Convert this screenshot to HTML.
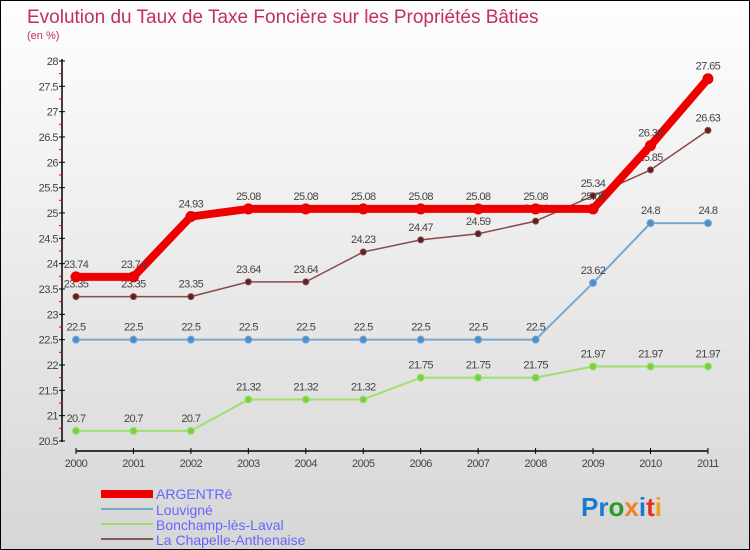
<!DOCTYPE html>
<html><head><meta charset="utf-8"><style>
body{margin:0}
#c{width:750px;height:550px;position:relative;box-sizing:border-box;border:1px solid #000;background:linear-gradient(#fefefe,#d6d6d6);font-family:"Liberation Sans",sans-serif;overflow:hidden}
svg text{font-family:"Liberation Sans",sans-serif}
</style></head><body>
<div id="c">
<svg id="s" width="750" height="550">
<text x="26" y="22" font-size="19" fill="#c0305a">Evolution du Taux de Taxe Foncière sur les Propriétés Bâties</text>
<text x="26" y="38" font-size="11" fill="#c0305a">(en %)</text>
<g id="g"></g>
<g>
<rect x="100" y="489" width="52" height="8" fill="#e00"/>
<text x="155" y="498" font-size="14" fill="#6666ff">ARGENTRé</text>
<line x1="100" y1="508" x2="152" y2="508" stroke="#7aa8cc" stroke-width="2"/>
<text x="155" y="514" font-size="14" fill="#6666ff">Louvigné</text>
<line x1="100" y1="523" x2="152" y2="523" stroke="#9de070" stroke-width="2"/>
<text x="155" y="529" font-size="14" fill="#6666ff">Bonchamp-lès-Laval</text>
<line x1="100" y1="538" x2="152" y2="538" stroke="#8a5a5a" stroke-width="2"/>
<text x="155" y="544" font-size="14" fill="#6666ff">La Chapelle-Anthenaise</text>
</g>
<text x="580" y="515" font-size="26" font-weight="bold"><tspan fill="#1a7ad0">Pr</tspan><tspan fill="#2a9a2a">o</tspan><tspan fill="#f08020">x</tspan><tspan fill="#1a7ad0">i</tspan><tspan fill="#e03020">t</tspan><tspan fill="#f0a020">i</tspan></text>
</svg>
</div>
<script>
const years=["2000","2001","2002","2003","2004","2005","2006","2007","2008","2009","2010","2011"];
const argentre=[23.74,23.74,24.93,25.08,25.08,25.08,25.08,25.08,25.08,25.08,26.33,27.65];
const louvigne=[22.5,22.5,22.5,22.5,22.5,22.5,22.5,22.5,22.5,23.62,24.8,24.8];
const bonchamp=[20.7,20.7,20.7,21.32,21.32,21.32,21.75,21.75,21.75,21.97,21.97,21.97];
const chapelle=[23.35,23.35,23.35,23.64,23.64,24.23,24.47,24.59,24.84,25.34,25.85,26.63];
const yTicks=[20.5,21,21.5,22,22.5,23,23.5,24,24.5,25,25.5,26,26.5,27,27.5,28];
const NS="http://www.w3.org/2000/svg",g=document.getElementById('g');
const X=i=>75+i*57.45, Y=v=>440-(v-20.5)*50.67;
function mk(t,a,p){const e=document.createElementNS(NS,t);for(const k in a)e.setAttribute(k,a[k]);(p||g).appendChild(e);return e;}
mk('line',{x1:61,y1:58,x2:61,y2:441,stroke:'#000','stroke-width':1.5});
mk('line',{x1:75,y1:450,x2:707,y2:450,stroke:'#000','stroke-width':1.5});
yTicks.forEach(v=>{mk('line',{x1:58,y1:Y(v),x2:64,y2:Y(v),stroke:'#000'});
 if(v<28)mk('line',{x1:58,y1:Y(v+0.25),x2:61,y2:Y(v+0.25),stroke:'#e00'});
 const t=mk('text',{x:57,y:Y(v)+4,'font-size':11,fill:'#444','text-anchor':'end','letter-spacing':'-0.5'});t.textContent=String(v);
 
 });
years.forEach((y,i)=>{mk('line',{x1:X(i),y1:447,x2:X(i),y2:453,stroke:'#000'});
 const t=mk('text',{x:X(i),y:466,'font-size':11,fill:'#444','text-anchor':'middle','letter-spacing':'-0.5'});t.textContent=y;
 
 });
function series(data,name,col,dot,w,r){
 const grp=mk('g',{});
 
 
 mk('polyline',{points:data.map((v,i)=>X(i)+','+Y(v)).join(' '),fill:'none',stroke:col,'stroke-width':w,'stroke-linejoin':'round'},grp);
 data.forEach((v,i)=>{const c=mk('circle',{cx:X(i),cy:Y(v),r:r,fill:dot,stroke:col},grp);
  
  
  const t=mk('text',{x:X(i),y:Y(v)-9,'font-size':11,fill:'#444','text-anchor':'middle','letter-spacing':'-0.6'},grp);t.textContent=String(v);
  
  });
}
series(bonchamp,'bonchamp','#9de070','#7cd040',2,3.5);
series(louvigne,'louvigne','#7aa8cc','#4a90d0',2,3.5);
series(chapelle,'la-chapelle','#8a4a4a','#602020',1.5,3);
series(argentre,'argentre','#ee0000','#ee0000',8,5);
</script>
</body></html>
